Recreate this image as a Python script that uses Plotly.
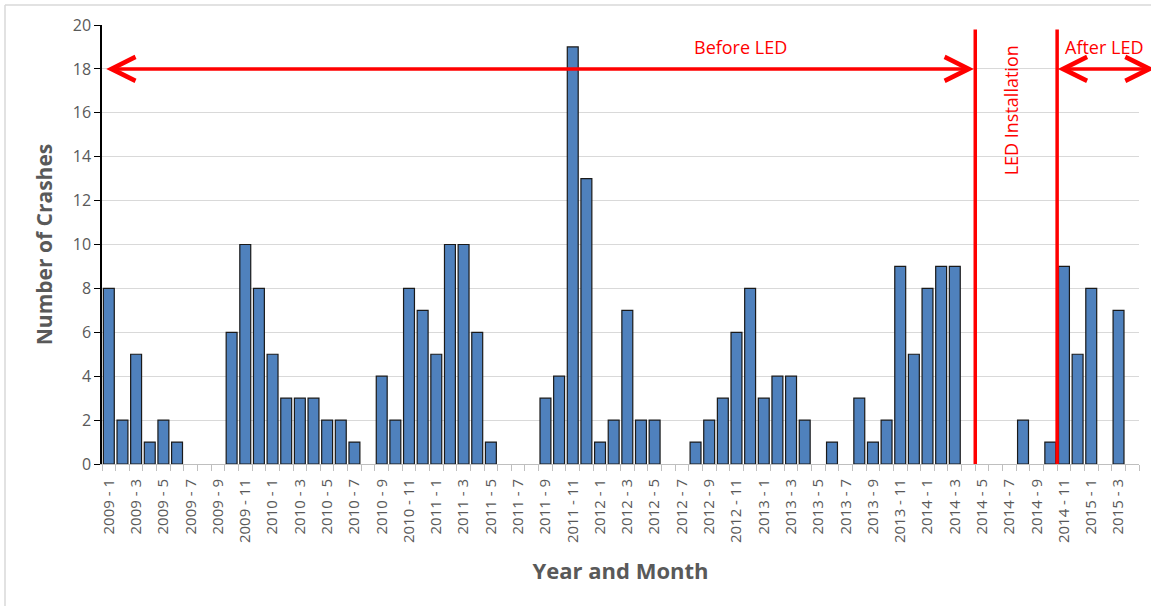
import plotly.graph_objects as go

# ---------------- data ----------------
years_months = [(y, m) for y in range(2009, 2016) for m in range(1, 13)]
categories = [f"{y} - {m}" for (y, m) in years_months][:76]  # 2009-1 .. 2015-4

crashes = [
    8, 2, 5, 1, 2, 1, 0, 0, 0, 6, 10, 8,      # 2009
    5, 3, 3, 3, 2, 2, 1, 0, 4, 2, 8, 7,       # 2010
    5, 10, 10, 6, 1, 0, 0, 0, 3, 4, 19, 13,   # 2011
    1, 2, 7, 2, 2, 0, 0, 1, 2, 3, 6, 8,       # 2012
    3, 4, 4, 2, 0, 1, 0, 3, 1, 2, 9, 5,       # 2013
    8, 9, 9, 0, 0, 0, 0, 2, 0, 1, 9, 5,       # 2014
    8, 0, 7, 0,                               # 2015
]

tick_labels = categories[::2]
install_start = "2014 - 5"   # first month of LED installation
install_end = "2014 - 11"    # first month after LED

# ---------------- layout constants ----------------
W, H = 1151, 606
ML, MR, MT, MB = 102, 12, 25, 142
RED = "#FF0000"
GRAY_TXT = "#595959"
FONT = "Open Sans"

idx = list(range(len(categories)))
tick_idx = idx[::2]
x_start = categories.index(install_start) - 0.5
x_end = categories.index(install_end) - 0.5

fig = go.Figure()
fig.add_trace(go.Bar(
    x=idx, y=crashes,
    marker=dict(color="#4F81BD",
                line=dict(color="#1a1a1a", width=[1.2 if v > 0 else 0 for v in crashes])),
    width=0.8,
    hoverinfo="x+y",
))

fig.update_layout(
    width=W, height=H, autosize=False,
    margin=dict(l=ML, r=MR, t=MT, b=MB),
    paper_bgcolor="white", plot_bgcolor="white",
    showlegend=False,
    font=dict(family=FONT, color=GRAY_TXT),
)

fig.update_xaxes(
    range=[-0.5, len(categories) - 0.5],
    tickmode="array", tickvals=tick_idx, ticktext=tick_labels,
    tickangle=-90, tickfont=dict(size=15, color=GRAY_TXT, family=FONT),
    ticks="", showgrid=False, zeroline=False,
    showline=True, linecolor="#BFBFBF", linewidth=1,
    minor=dict(tickmode="linear", tick0=-0.5, dtick=1, ticks="outside",
               ticklen=6, tickcolor="#BFBFBF", showgrid=False),
    ticklabelstandoff=8,
    title=dict(text="<b>Year and Month</b>", font=dict(size=22, color=GRAY_TXT, family=FONT),
               standoff=21),
)
fig.update_yaxes(
    range=[0, 20], dtick=2, tick0=0,
    showgrid=True, gridcolor="#D9D9D9", gridwidth=1,
    zeroline=False,
    showline=True, linecolor="black", linewidth=1.5,
    ticks="outside", ticklen=6, tickcolor="black",
    tickfont=dict(size=16, color=GRAY_TXT, family=FONT),
    title=dict(text="<b>Number of Crashes</b>", font=dict(size=21, color=GRAY_TXT, family=FONT),
               standoff=14),
)

# vertical installation boundaries
for xv in (x_start, x_end):
    fig.add_shape(type="line", xref="x", yref="y", x0=xv, x1=xv, y0=0, y1=19.8,
                  line=dict(color=RED, width=3.5))

# double arrows
arrow_y = 18
fig.add_annotation(x=x_start - 0.1, y=arrow_y, ax=-0.3, ay=arrow_y,
                   xref="x", yref="y", axref="x", ayref="y", text="",
                   showarrow=True, arrowhead=5, startarrowhead=5, arrowside="end+start",
                   arrowwidth=3.5, arrowsize=1.35, startarrowsize=1.35, arrowcolor=RED)
fig.add_annotation(x=x_end + 0.05, y=arrow_y, ax=len(categories) + 0.75, ay=arrow_y,
                   xref="x", yref="y", axref="x", ayref="y", text="",
                   showarrow=True, arrowhead=5, startarrowhead=5, arrowside="end+start",
                   arrowwidth=3.5, arrowsize=1.35, startarrowsize=1.35, arrowcolor=RED)

# texts
fig.add_annotation(x=46.3, y=19.0, xref="x", yref="y", text="Before LED", showarrow=False,
                   font=dict(size=18, color=RED, family=FONT))
fig.add_annotation(x=72.9, y=19.0, xref="x", yref="y", text="After LED", showarrow=False,
                   font=dict(size=18, color=RED, family=FONT))
fig.add_annotation(x=66.1, y=16.1, xref="x", yref="y", text="LED Installation", showarrow=False,
                   textangle=-90, font=dict(size=18, color=RED, family=FONT))

# chart border (left & top)
pw = W - ML - MR
ph = H - MT - MB
bx = (5 - ML) / pw
by = (H - MB - 5) / ph
fig.add_shape(type="line", xref="paper", yref="paper", x0=bx, x1=bx, y0=by, y1=-(MB) / ph,
              line=dict(color="#D9D9D9", width=1.5))
fig.add_shape(type="line", xref="paper", yref="paper", x0=bx, x1=(W - ML) / pw, y0=by, y1=by,
              line=dict(color="#D9D9D9", width=1.5))

fig.write_html("out.html", config={"displayModeBar": False},
               post_script="document.body.style.margin='0';document.body.style.overflow='hidden';")
